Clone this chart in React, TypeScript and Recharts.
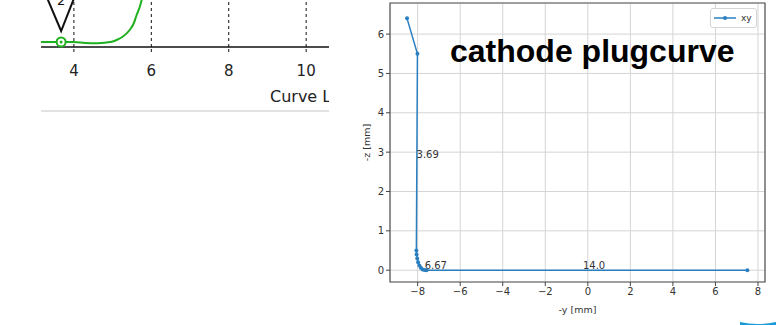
import {
  LineChart,
  Line,
  XAxis,
  YAxis,
  CartesianGrid,
  ReferenceDot,
  ReferenceArea,
  ReferenceLine,
  Legend,
  Label,
} from "recharts";

// left panel (partial curve-length plot)
const curveX = [3.15, 3.6, 4.0, 4.3, 4.6, 4.85, 5.0, 5.1, 5.25, 5.44, 5.55, 5.62, 5.7, 5.75, 5.85];
const curveY = [0, 0, 0, -0.1, -0.12, -0.05, 0.05, 0.2, 0.5, 1.2, 1.9, 2.7, 3.5, 4.2, 5.6];
const curveTicks = [4, 6, 8, 10];
const markerX = 3.67;

// right panel (cathode plug curve, -y vs -z)
const plugY = [-8.5, -8.01, -8.06, -8.05, -8.02, -7.98, -7.92, -7.85, -7.77, -7.68, -7.58, 7.5];
const plugZ = [6.4, 5.5, 0.5, 0.4, 0.3, 0.2, 0.12, 0.06, 0.02, 0.005, 0, 0];
const plugXTicks = [-8, -6, -4, -2, 0, 2, 4, 6, 8];
const plugYTicks = [0, 1, 2, 3, 4, 5, 6];
const noteText = ["3.69", "6.67", "14.0"];
const noteY = [-8.05, -7.67, -0.23];
const noteZ = [2.85, 0.03, 0.03];

const curveData = curveX.map((x, i) => ({ x, v: curveY[i] }));
const plugData = plugY.map((y, i) => ({ y, z: plugZ[i] }));

const BLUE = "#2a7fc0";
const GREEN = "#1fb01f";
const MPL = "DejaVu Sans, sans-serif";

const fmtMinus = (v: number) => (v < 0 ? "\u2212" + Math.abs(v) : String(v));

function PinMarker(props: any) {
  const { cx, cy } = props;
  return (
    <g>
      <polyline
        points={`${cx - 14},${cy - 44} ${cx},${cy - 11} ${cx + 13},${cy - 44}`}
        fill="none"
        stroke="#111"
        strokeWidth={2}
      />
      <text x={cx} y={cy - 37} fontSize={13} fontFamily="DejaVu Sans" textAnchor="middle" fill="#111">
        2
      </text>
      <circle cx={cx} cy={cy} r={4.5} fill="#fff" stroke={GREEN} strokeWidth={2} />
      <circle cx={cx} cy={cy} r={1.5} fill={GREEN} />
    </g>
  );
}

function NoteLabel(text: string) {
  return (props: any) => (
    <text x={props.viewBox.x} y={props.viewBox.y} fontSize={10} fontFamily={MPL} fill="#333">
      {text}
    </text>
  );
}

function PlugLegend() {
  return (
    <div
      style={{
        width: 45,
        height: 18,
        border: "1px solid #d6d6d6",
        borderRadius: 3,
        background: "#fff",
        display: "flex",
        alignItems: "center",
        fontFamily: MPL,
        fontSize: 9,
        color: "#333",
      }}
    >
      <svg width={30} height={18}>
        <line x1={3} y1={9} x2={25} y2={9} stroke={BLUE} strokeWidth={1.5} />
        <circle cx={14} cy={9} r={2} fill={BLUE} />
      </svg>
      <span>xy</span>
    </div>
  );
}

export default function App() {
  return (
    <div
      style={{
        position: "absolute",
        left: 0,
        top: 0,
        width: 779,
        height: 325,
        background: "#fff",
        overflow: "hidden",
      }}
    >
      {/* left: clipped curve length plot */}
      <div style={{ position: "absolute", left: 0, top: 0, width: 329, height: 120, overflow: "hidden" }}>
        <LineChart width={340} height={120} data={curveData} margin={{ top: 0, right: 11, bottom: 0, left: 41 }}>
          <XAxis
            dataKey="x"
            type="number"
            domain={[3.15, 10.59]}
            ticks={curveTicks}
            height={73}
            axisLine={{ stroke: "#111", strokeWidth: 1.5 }}
            tickLine={{ stroke: "#111", strokeDasharray: "3 2" }}
            tickSize={5}
            tickMargin={13}
            tick={{ fontSize: 15, fontFamily: "DejaVu Sans", fill: "#222" }}
          >
            <Label
              content={(p: any) => (
                <text
                  x={p.viewBox.x + 229}
                  y={p.viewBox.y + 55}
                  fontSize={16}
                  fontFamily="DejaVu Sans"
                  fill="#222"
                >
                  Curve Length (mm)
                </text>
              )}
            />
          </XAxis>
          <YAxis hide type="number" domain={[-0.5, 4.2]} allowDataOverflow />
          {curveTicks.map((t) => (
            <ReferenceLine key={t} x={t} stroke="#111" strokeDasharray="3 3" />
          ))}
          <Line
            dataKey="v"
            type="monotone"
            stroke={GREEN}
            strokeWidth={2}
            dot={false}
            isAnimationActive={false}
          />
          <ReferenceDot x={markerX} y={0} r={4} shape={PinMarker} ifOverflow="visible" />
        </LineChart>
      </div>
      <div style={{ position: "absolute", left: 41, top: 110, width: 288, height: 2, background: "#e2e2e2" }} />

      {/* right: matplotlib style plug curve */}
      <div style={{ position: "absolute", left: 360, top: 0 }}>
        <LineChart width={419} height={325} data={plugData} margin={{ top: 3, right: 14, bottom: 13, left: 0 }}>
          <CartesianGrid stroke="#d4d4d4" strokeWidth={1} />
          <XAxis
            dataKey="y"
            type="number"
            domain={[-9.3, 8.33]}
            ticks={plugXTicks}
            tickFormatter={fmtMinus}
            height={30}
            axisLine={false}
            tickLine={{ stroke: "#444" }}
            tickSize={4}
            tick={{ fontSize: 10, fontFamily: MPL, fill: "#333" }}
          >
            <Label
              content={(p: any) => (
                <text
                  x={p.viewBox.x + p.viewBox.width / 2}
                  y={p.viewBox.y + 31}
                  fontSize={9.5}
                  fontFamily={MPL}
                  fill="#333"
                  textAnchor="middle"
                >
                  -y [mm]
                </text>
              )}
            />
          </XAxis>
          <YAxis
            type="number"
            domain={[-0.3, 6.79]}
            ticks={plugYTicks}
            width={30}
            axisLine={false}
            tickLine={{ stroke: "#444" }}
            tickSize={4}
            tick={{ fontSize: 10, fontFamily: MPL, fill: "#333" }}
          >
            <Label
              content={(p: any) => {
                const cx = p.viewBox.x + 9.5;
                const cy = p.viewBox.y + p.viewBox.height / 2;
                return (
                  <text
                    x={cx}
                    y={cy}
                    fontSize={9.5}
                    fontFamily={MPL}
                    fill="#333"
                    textAnchor="middle"
                    transform={`rotate(-90 ${cx} ${cy})`}
                  >
                    -z [mm]
                  </text>
                );
              }}
            />
          </YAxis>
          <ReferenceArea
            x1={-9.3}
            x2={8.33}
            y1={-0.3}
            y2={6.79}
            fill="none"
            fillOpacity={0}
            stroke="#555"
            strokeWidth={1.2}
          />
          <Legend
            verticalAlign="middle"
            align="center"
            wrapperStyle={{ left: 350, top: 8, width: 47 }}
            content={() => <PlugLegend />}
          />
          <Line
            dataKey="z"
            name="xy"
            type="linear"
            stroke={BLUE}
            strokeWidth={1.5}
            dot={{ r: 2, fill: BLUE, stroke: BLUE, strokeWidth: 0 }}
            isAnimationActive={false}
          />
          {noteText.map((t, i) => (
            <ReferenceDot
              key={t}
              x={noteY[i]}
              y={noteZ[i]}
              r={0}
              fill="none"
              stroke="none"
              label={NoteLabel(t)}
            />
          ))}
        </LineChart>
      </div>

      <svg
        width={779}
        height={325}
        style={{ position: "absolute", left: 0, top: 0, pointerEvents: "none" }}
      >
        <text x={450} y={62} fontSize={32} fontWeight="bold" fontFamily="Liberation Sans, Arial, sans-serif" fill="#000">
          cathode plugcurve
        </text>
        <path d="M740 322 Q757 326 776 322 L776 325 L740 325 Z" fill="#1a9ad6" />
      </svg>
    </div>
  );
}
